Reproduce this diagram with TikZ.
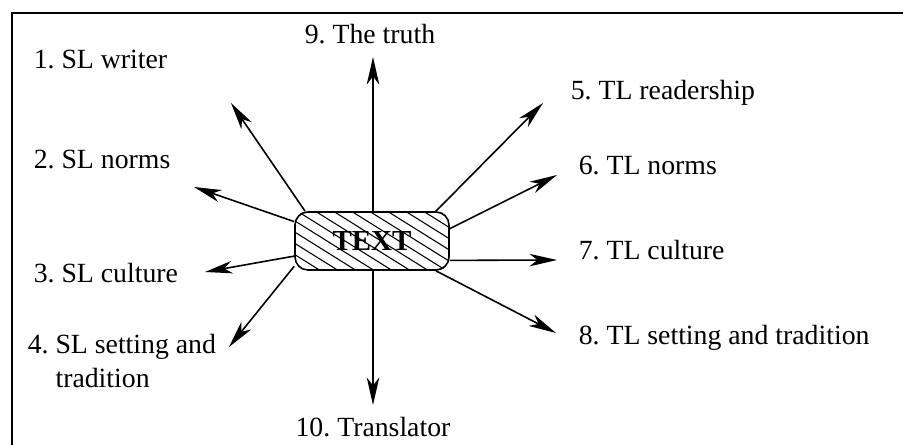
\documentclass[tikz,border=0pt]{standalone}
\usepackage{fontspec}
\setmainfont{Liberation Serif}
\usetikzlibrary{arrows.meta}

\begin{document}
\begin{tikzpicture}[>={Stealth[length=0.55cm,width=0.25cm,inset=0.16cm]},line width=0.9pt,
 font=\fontsize{15.8}{19}\selectfont\frenchspacing,
 lab/.style={anchor=west,inner sep=0pt,align=left},
 tbox/.style={draw,rectangle,rounded corners=0.26cm,minimum width=3.08cm,minimum height=1.16cm,inner sep=0pt,font=\fontsize{16.5}{19}\selectfont\bfseries}]
\useasboundingbox (0,0) rectangle (18.06,-8.9);
\draw[line width=0.7pt] (0.24,-8.9) |- (18.06,-0.26);
\node[tbox] (box) at (7.44,-4.82) {TEXT};
\begin{scope}
\clip[rounded corners=0.26cm] (box.south west) rectangle (box.north east);
\foreach \i in {-2.7,-2.34,...,2.8}
  \draw[line width=0.6pt] ([xshift=\i cm]box.center) ++(148:2) -- ++(-32:4);
\end{scope}
\coordinate (t1) at (4.62,-2.06); \coordinate (t2) at (3.88,-3.74);
\coordinate (t3) at (4.10,-5.44); \coordinate (t4) at (4.58,-6.94);
\coordinate (t5) at (10.86,-2.06); \coordinate (t6) at (11.14,-3.50);
\coordinate (t7) at (11.14,-5.20); \coordinate (t8) at (11.12,-6.66);
\coordinate (t9) at (7.46,-1.14); \coordinate (t10) at (7.46,-8.10);
\draw[->] (box.156)--(t1); \draw[->] (box.166)--(t2); \draw[->] (box.191)--(t3); \draw[->] (box.198)--(t4);
\draw[->] (box.25)--(t5); \draw[->] (box.9)--(t6); \draw[->] (box.346)--(t7); \draw[->] (box.335)--(t8);
\draw[->] (box.north -| t9)--(t9); \draw[->] (box.south -| t10)--(t10);
\node[lab] (l1) at (0.66,-1.20) {1. SL writer};
\node[lab] (l2) at (0.66,-3.20) {2. SL norms};
\node[lab] (l3) at (0.66,-5.46) {3. SL culture};
\node[lab] (l4) at (0.54,-7.22) {4. SL setting and\\\hphantom{4. }tradition};
\node[lab] (l5) at (11.40,-1.86) {5. TL readership};
\node[lab] (l6) at (11.56,-3.32) {6. TL norms};
\node[lab] (l7) at (11.56,-5.00) {7. TL culture};
\node[lab] (l8) at (11.56,-6.76) {8. TL setting and tradition};
\node[inner sep=0pt] (l9) at (7.40,-0.68) {9. The truth};
\node[inner sep=0pt] (l10) at (7.46,-8.54) {10. Translator};
\end{tikzpicture}
\end{document}
